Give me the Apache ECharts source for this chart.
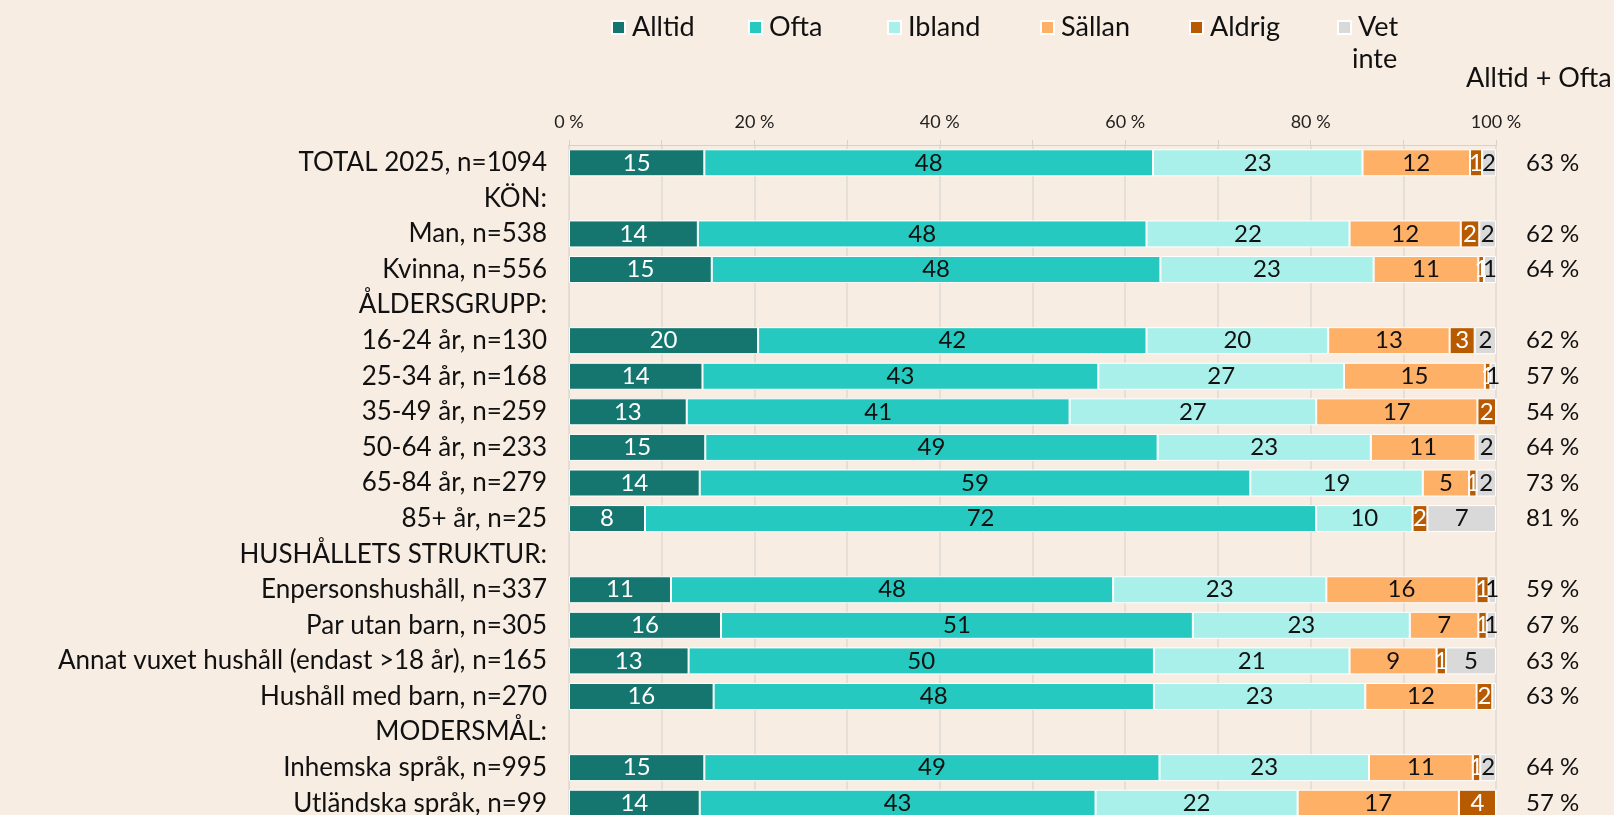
<!DOCTYPE html>
<html>
<head>
<meta charset="utf-8">
<script src="https://cdn.jsdelivr.net/npm/echarts@6/dist/echarts.min.js"></script>
<style>
html,body{margin:0;padding:0;background:#F8EDE3;overflow:hidden;}
#chart{width:1614px;height:830px;}
</style>
</head>
<body>
<div id="chart"></div>
<script>
const categories = ['TOTAL 2025, n=1094','KÖN:','Man, n=538','Kvinna, n=556','ÅLDERSGRUPP:','16-24 år, n=130','25-34 år, n=168','35-49 år, n=259','50-64 år, n=233','65-84 år, n=279','85+ år, n=25','HUSHÅLLETS STRUKTUR:','Enpersonshushåll, n=337','Par utan barn, n=305','Annat vuxet hushåll (endast >18 år), n=165','Hushåll med barn, n=270','MODERSMÅL:','Inhemska språk, n=995','Utländska språk, n=99'];
const seriesNames = ['Alltid','Ofta','Ibland','Sällan','Aldrig','Vet inte'];
const alltid = [14.6,'-',13.9,15.4,'-',20.4,14.4,12.7,14.7,14.1,8.2,'-',11.0,16.4,12.9,15.6,'-',14.6,14.1];
const ofta   = [48.4,'-',48.4,48.4,'-',41.9,42.7,41.3,48.8,59.4,72.4,'-',47.7,50.9,50.2,47.5,'-',49.1,42.7];
const ibland = [22.6,'-',21.9,23.0,'-',19.6,26.5,26.6,23.0,18.6,10.4,'-',23.0,23.4,21.1,22.8,'-',22.6,21.8];
const sallan = [11.6,'-',12.0,11.3,'-',13.1,15.2,17.4,11.3,5.0,0,'-',16.2,7.4,9.4,12.0,'-',11.2,17.4];
const aldrig = [1.3,'-',2.0,0.6,'-',2.7,0.6,2.0,0.2,0.8,1.6,'-',1.3,0.9,1.0,1.7,'-',0.8,4.0];
const vetInte = [1.5,'-',1.8,1.3,'-',2.3,0.6,0,2.0,2.1,7.4,'-',0.8,1.0,5.4,0.4,'-',1.7,0];
const alltidOfta = [63,'',62,64,'',62,57,54,64,73,81,'',59,67,63,63,'',64,57];
const xTicks = [0,20,40,60,80,100];

const colors = ['#15766F','#26C9BF','#A9F0EA','#FFB067','#B85A00','#D9D9D9'];
const labelColors = ['#ffffff','#111111','#111111','#111111','#ffffff','#111111'];
const values = [alltid, ofta, ibland, sallan, aldrig, vetInte];
const FONT = 'Lato';

const chart = echarts.init(document.getElementById('chart'));
const legendLeft = [606, 743, 882, 1035, 1184, 1332];

const option = {
  backgroundColor: '#F8EDE3',
  textStyle: {fontFamily: FONT},
  animation: false,
  legend: seriesNames.map((n, i) => ({
    data: [n],
    left: legendLeft[i],
    top: 9,
    itemWidth: 13,
    itemHeight: 13,
    icon: 'rect',
    selectedMode: false,
    formatter: name => name === 'Vet inte' ? 'Vet' : name,
    textStyle: {fontFamily: FONT, fontSize: 27, color: '#111', padding: [0,0,0,2]}
  })),
  graphic: [
    {type: 'text', left: 1352, top: 46, style: {text: 'inte', fontFamily: FONT, fontSize: 27, fill: '#111'}},
    {type: 'text', left: 1466, top: 65, style: {text: 'Alltid + Ofta', fontFamily: FONT, fontSize: 27, fill: '#111'}}
  ],
  grid: {left: 569, right: 118, top: 145, height: 676, containLabel: false},
  xAxis: {
    type: 'value', position: 'top', min: xTicks[0], max: xTicks[xTicks.length-1], interval: 20,
    axisLine: {show: true, lineStyle: {color: '#D6D1CC', width: 1}},
    axisTick: {show: true, length: 5, lineStyle: {color: '#D6D1CC'}},
    minorTick: {show: true, splitNumber: 2, length: 5, lineStyle: {color: '#D6D1CC'}},
    splitLine: {show: true, lineStyle: {color: '#DEDAD5', width: 1.5}},
    minorSplitLine: {show: true, lineStyle: {color: '#DEDAD5', width: 1.5}},
    axisLabel: {margin: 14, fontFamily: FONT, fontSize: 18, color: '#222', formatter: v => v + ' %'}
  },
  yAxis: [
    {
      type: 'category', data: categories, inverse: true,
      axisLine: {show: true, lineStyle: {color: '#DEDAD5'}},
      axisTick: {show: false},
      axisLabel: {margin: 22, fontFamily: FONT, fontSize: 26, color: '#111'}
    },
    {
      type: 'category', data: alltidOfta.map(v => v === '' ? '' : v + ' %'), inverse: true, position: 'right',
      axisLine: {show: false}, axisTick: {show: false},
      axisLabel: {margin: 30, align: 'left', fontFamily: FONT, fontSize: 24, color: '#111'}
    }
  ],
  series: seriesNames.map((n, i) => ({
    name: n, type: 'bar', stack: 'total', data: values[i], barWidth: 27,
    itemStyle: {color: colors[i], borderColor: '#ffffff', borderWidth: 1},
    label: {
      show: true, position: 'inside', fontFamily: FONT, fontSize: 24, color: labelColors[i],
      formatter: p => { const r = Math.round(p.value); return r ? String(r) : ''; }
    }
  }))
};
chart.setOption(option);
</script>
</body>
</html>
